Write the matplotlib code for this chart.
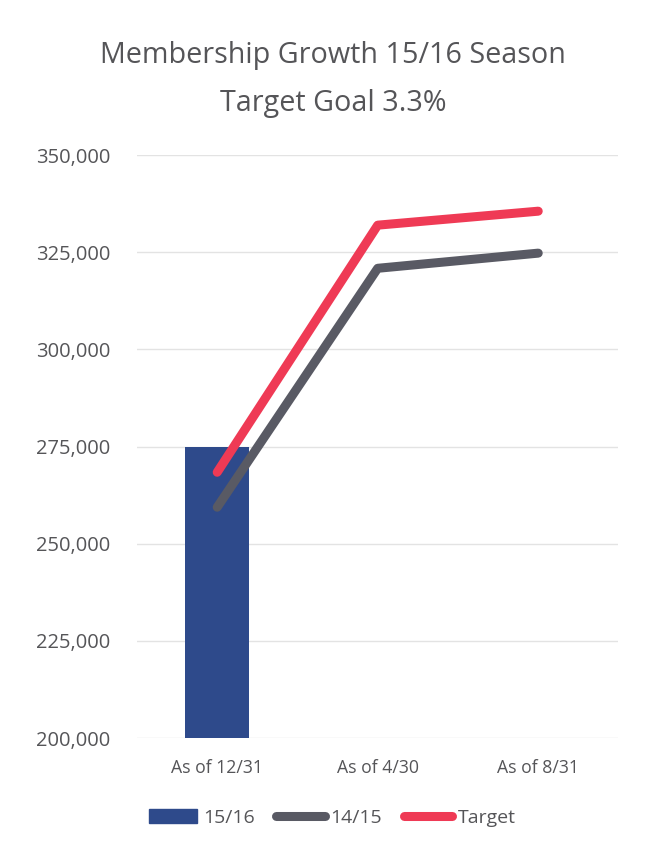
import matplotlib
matplotlib.use("Agg")
import matplotlib.pyplot as plt
from matplotlib.patches import Rectangle
from matplotlib.lines import Line2D
from matplotlib.ticker import FuncFormatter

categories = ["As of 12/31", "As of 4/30", "As of 8/31"]
bar_1516 = [274900, None, None]
line_1415 = [259400, 320900, 324800]
line_target = [268400, 332000, 335600]
yticks = [200000, 225000, 250000, 275000, 300000, 325000, 350000]

plt.rcParams['font.family'] = ['Open Sans', 'DejaVu Sans']
txt = "#555558"
c_bar = "#2E4A8B"
c_grey = "#595A64"
c_red = "#EF3A55"

fig = plt.figure(figsize=(6.49, 8.52), dpi=100)
ax = fig.add_axes([0.211, 0.1338, 0.742, 0.684])

x = list(range(len(categories)))
bx = [i for i, v in enumerate(bar_1516) if v is not None]
bv = [v for v in bar_1516 if v is not None]
ax.bar(bx, bv, width=0.40, color=c_bar, zorder=2)
ax.plot(x, line_1415, color=c_grey, lw=6.5, solid_capstyle='round', solid_joinstyle='round', zorder=3)
ax.plot(x, line_target, color=c_red, lw=6.5, solid_capstyle='round', solid_joinstyle='round', zorder=4)

ax.set_xlim(-0.5, 2.5)
ax.set_ylim(200000, 350000)
ax.set_yticks(yticks)
ax.yaxis.set_major_formatter(FuncFormatter(lambda v, p: f"{int(v):,}"))
ax.set_xticks(x)
ax.set_xticklabels(categories)
ax.tick_params(axis='both', length=0, colors=txt)
ax.tick_params(axis='y', pad=19, labelsize=14.5)
ax.tick_params(axis='x', pad=15, labelsize=12.7)
for s in ax.spines.values():
    s.set_visible(False)
ax.grid(axis='y', color="#E3E3E3", lw=1, zorder=0)
ax.set_axisbelow(True)

fig.text(0.513, 0.935, "Membership Growth 15/16 Season", ha='center', va='center', fontsize=20.7, color=txt)
fig.text(0.513, 0.879, "Target Goal 3.3%", ha='center', va='center', fontsize=20.7, color=txt)

handles = [Rectangle((0, 0), 1, 1, color=c_bar),
           Line2D([0], [0], color=c_grey, lw=6.5, solid_capstyle='round'),
           Line2D([0], [0], color=c_red, lw=6.5, solid_capstyle='round')]
leg = fig.legend(handles, ["15/16", "14/15", "Target"], loc='center', bbox_to_anchor=(0.512, 0.040),
                 ncol=3, frameon=False, fontsize=14, handlelength=2.5, handletextpad=0.3,
                 columnspacing=1.1, labelcolor=txt)

fig.savefig("out.png", dpi=100)
